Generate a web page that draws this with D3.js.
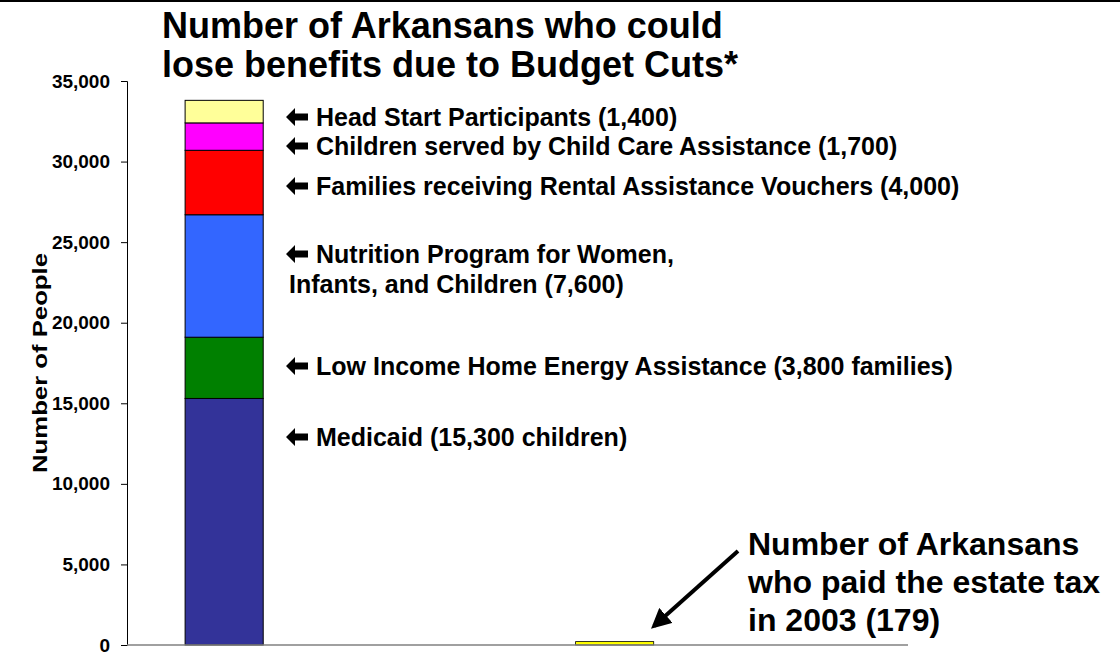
<!DOCTYPE html>
<html>
<head>
<meta charset="utf-8">
<script src="https://cdn.jsdelivr.net/npm/d3@7"></script>
<style>
  body { margin: 0; background: #fff; }
  text { font-family: "Liberation Sans", Arial, sans-serif; font-weight: bold; }
</style>
</head>
<body>
<div id="chart"></div>
<script>
// data
const programs = ["Medicaid", "Energy", "WIC", "Rental", "ChildCare", "HeadStart"];
const programValues = [15300, 3800, 7600, 4000, 1700, 1400];
const programColors = ["#333399", "#008000", "#3366ff", "#ff0000", "#ff00ff", "#ffff99"];
const programLabels = [
  ["Medicaid (15,300 children)"],
  ["Low Income Home Energy Assistance (3,800 families)"],
  ["Nutrition Program for Women,", "Infants, and Children (7,600)"],
  ["Families receiving Rental Assistance Vouchers (4,000)"],
  ["Children served by Child Care Assistance (1,700)"],
  ["Head Start Participants (1,400)"]
];
const categories = ["Budget Cuts", "Estate Tax"];
const estateTaxPayers = 179;
const yTicks = [0, 5000, 10000, 15000, 20000, 25000, 30000, 35000];

const width = 1120, height = 654;
const margin = { left: 127, right: 212, top: 81, bottom: 9 };

const svg = d3.select("#chart").append("svg")
    .attr("width", width)
    .attr("height", height);

// top rule
svg.append("rect").attr("x", 0).attr("y", 0).attr("width", width).attr("height", 2).attr("fill", "#000");

const y = d3.scaleLinear()
    .domain([0, 35000])
    .range([height - margin.bottom, margin.top]);

const x = d3.scaleBand()
    .domain(categories)
    .range([margin.left, width - margin.right])
    .paddingInner(0.8)
    .paddingOuter(0.4)
    .align(0.186);

// stacked bar
let cum = 0;
const stack = programValues.map((v, i) => {
  const d = { key: programs[i], y0: cum, y1: cum + v, color: programColors[i], label: programLabels[i] };
  cum += v;
  return d;
});

svg.selectAll("rect.seg")
  .data(stack)
  .enter().append("rect")
    .attr("class", "seg")
    .attr("x", x(categories[0]))
    .attr("width", x.bandwidth())
    .attr("y", d => y(d.y1))
    .attr("height", d => y(d.y0) - y(d.y1))
    .attr("fill", d => d.color)
    .attr("stroke", "#000")
    .attr("stroke-width", 1);

// estate tax bar
svg.append("rect")
    .attr("x", x(categories[1]))
    .attr("width", x.bandwidth())
    .attr("y", y(estateTaxPayers) - 0.5)
    .attr("height", y(0) - y(estateTaxPayers) + 0.5)
    .attr("fill", "#ffff00")
    .attr("stroke", "#000")
    .attr("stroke-width", 0.8);

// axes
const yAxis = svg.append("g")
    .attr("transform", `translate(${margin.left},0)`)
    .call(d3.axisLeft(y).tickValues(yTicks).tickSize(6).tickPadding(11).tickFormat(d3.format(",")));
yAxis.select(".domain").attr("stroke", "#000");
yAxis.selectAll("text").attr("font-size", 19).attr("fill", "#000")
    .attr("font-family", "'Liberation Sans', Arial, sans-serif");

svg.append("line")
    .attr("x1", margin.left).attr("x2", width - margin.right)
    .attr("y1", y(0)).attr("y2", y(0))
    .attr("stroke", "#808080").attr("stroke-width", 1.5);

svg.append("text")
    .attr("transform", `translate(47,${(y(0) + y(35000)) / 2}) rotate(-90)`)
    .attr("text-anchor", "middle")
    .attr("font-size", 20)
    .attr("textLength", 220)
    .attr("lengthAdjust", "spacingAndGlyphs")
    .text("Number of People");

// title
const title = svg.append("text").attr("font-size", 36);
title.append("tspan").attr("x", 162).attr("y", 38).text("Number of Arkansans who could");
title.append("tspan").attr("x", 162).attr("y", 77).text("lose benefits due to Budget Cuts*");

// segment labels, each with a block arrow pointing at its segment
const labelY = { Medicaid: 446, Energy: 375, WIC: 263, Rental: 195, ChildCare: 155, HeadStart: 126 };
const arrowPath = "M0,0L9,-9L9,-3.5L22,-3.5L22,3.5L9,3.5L9,9Z";
stack.forEach(d => {
  const by = labelY[d.key];
  svg.append("path")
    .attr("d", arrowPath)
    .attr("transform", `translate(286,${by - 9})`)
    .attr("fill", "#000");
  const t = svg.append("text").attr("font-size", 25);
  d.label.forEach((line, j) => {
    t.append("tspan")
      .attr("x", j === 0 ? 316 : 289)
      .attr("y", by + j * 30)
      .text(line);
  });
});

// estate tax annotation
const est = svg.append("text").attr("font-size", 32);
["Number of Arkansans", "who paid the estate tax", "in 2003 (179)"].forEach((line, j) => {
  est.append("tspan").attr("x", 748).attr("y", 555 + j * 38).text(line);
});

svg.append("defs").append("marker")
    .attr("id", "head")
    .attr("viewBox", "0 0 10 10")
    .attr("refX", 8).attr("refY", 5)
    .attr("markerWidth", 5).attr("markerHeight", 5)
    .attr("orient", "auto")
  .append("path")
    .attr("d", "M0,0L10,5L0,10z")
    .attr("fill", "#000");

svg.append("line")
    .attr("x1", 738).attr("y1", 551)
    .attr("x2", 654).attr("y2", 626)
    .attr("stroke", "#000").attr("stroke-width", 4)
    .attr("marker-end", "url(#head)");
</script>
</body>
</html>
